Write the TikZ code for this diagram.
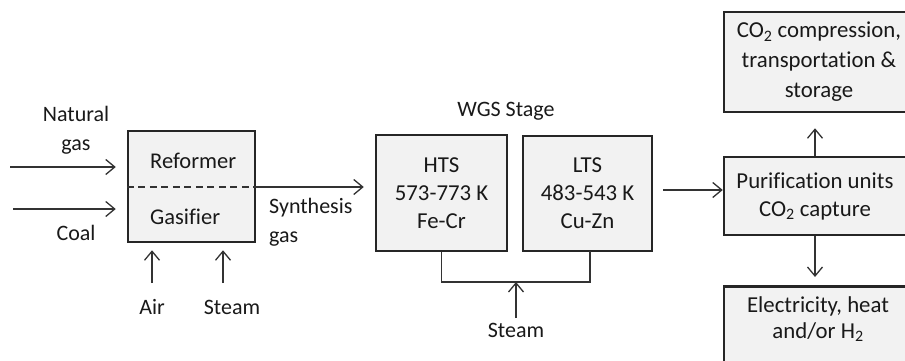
\documentclass[tikz,border=0pt]{standalone}
\usepackage{fontspec}
\setmainfont{Carlito}[Ligatures=CommonOff]
\usetikzlibrary{arrows.meta,positioning}

\begin{document}
\begin{tikzpicture}[x=1pt, y=-1pt, font=\fontsize{22}{29}\selectfont,
		unit/.style={draw=black!85, line width=2.5pt, fill=black!5, inner sep=0pt, align=center, text=black!90, font=\fontsize{22.8}{28}\selectfont},
		flow/.style={draw=black!80, line width=1.3pt, -{Straight Barb[length=9pt,width=15pt]}},
		lbl/.style={text=black!90, align=center, inner sep=0pt}]
		\clip (0,0) rectangle (905,361);
		% feed ends
		\coordinate (ng) at (10,167);
		\coordinate (cl) at (13,209);
		\coordinate (ai) at (152,283);
		\coordinate (st) at (223,283);
		\coordinate (sw) at (516,318);
		% units
		\node[unit, minimum width=127pt, minimum height=111pt] (gasr) at (191.5,186.5) {};
		\node[unit, minimum width=131pt, minimum height=116pt] (hts) at (441.5,193) {HTS\\573-773 K\\Fe-Cr};
		\node[unit, minimum width=129pt, minimum height=115pt] (lts) at (587.5,193.5) {LTS\\483-543 K\\Cu-Zn};
		\node[unit, minimum width=190pt, minimum height=100pt, font=\fontsize{22.8}{30}\selectfont] (ccs) at (819,62) {CO\textsubscript{2} compression,\\transportation \&\\storage};
		\node[unit, minimum width=182pt, minimum height=78pt] (pur) at (815,196) {Purification units\\CO\textsubscript{2} capture};
		\node[unit, minimum width=190pt, minimum height=80pt, anchor=north] (elec) at (819,285) {};
		\node[lbl, font=\fontsize{22.8}{26}\selectfont] (elecl) at (818,319) {Electricity, heat\\and/or H\textsubscript{2}};
		% reformer / gasifier split
		\draw[black!80, line width=1.2pt, dash pattern=on 7pt off 4.5pt] (gasr.west |- 0,187) -- (gasr.east |- 0,187);
		\node[lbl, anchor=west, font=\fontsize{22.5}{28}\selectfont] (refm) at (150,161) {Reformer};
		\node[lbl, anchor=west, font=\fontsize{22.5}{28}\selectfont] (gsf) at (150,217) {Gasifier};
		% labels
		\node[lbl] (ngl) at (76,130) {Natural\\gas};
		\node[lbl] (cll) at (76,233) {Coal};
		\node[lbl] (ail) at (152,307) {Air};
		\node[lbl] (stl) at (232,307) {Steam};
		\node[lbl, align=left, anchor=west] (syn) at (269,222) {Synthesis\\gas};
		\node[lbl] (wgs) at (506,111) {WGS Stage};
		\node[lbl] (swl) at (516,330) {Steam};
		% feeds
		\draw[flow, shorten >=11pt] (ng) -- (ng -| gasr.west);
		\draw[flow, shorten >=11pt] (cl) -- (cl -| gasr.west);
		\draw[flow, shorten >=7pt] (ai) -- (ai |- gasr.south);
		\draw[flow, shorten >=7pt] (st) -- (st |- gasr.south);
		% synthesis gas to WGS
		\draw[flow, shorten >=11pt] (gasr.east |- 0,187) -- (hts.west |- 0,187);
		% steam to both shift reactors
		\draw[black!80, line width=1.3pt] (hts.south) |- (516,282) -| (590,251);
		\draw[flow] (sw) -- (516,282);
		% to purification and products
		\draw[flow, shorten <=10pt] (lts.east |- 0,190) -- (pur.west |- 0,190);
		\draw[flow, shorten >=15pt] (pur.north -| 815,0) -- (ccs.south -| 815,0);
		\draw[flow, shorten >=8pt] (pur.south -| 815,0) -- (elec.north -| 815,0);
	\end{tikzpicture}
\end{document}
